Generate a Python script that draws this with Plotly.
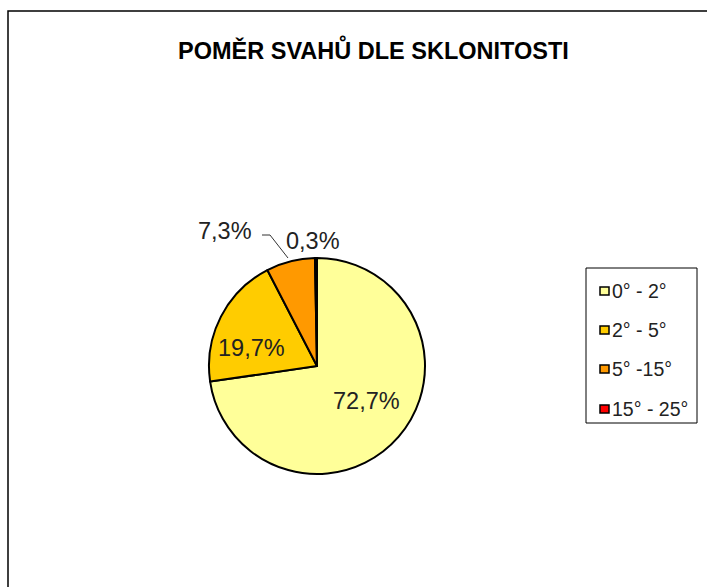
import plotly.graph_objects as go

categories = ["0° - 2°", "2° - 5°", "5° -15°", "15° - 25°"]
values = [72.7, 19.7, 7.3, 0.3]
colors = ["#FFFF99", "#FFCC00", "#FF9900", "#FF0000"]
title_text = "POMĚR SVAHŮ DLE SKLONITOSTI"

W, H = 707, 587
def px(x):
    return x / W
def py(y):
    return 1 - y / H

total = sum(values)
pct_text = [f"{v / total * 100:.1f}%".replace(".", ",") for v in values]

FONT = "Liberation Sans, Arial, sans-serif"
LBL = 23.5

fig = go.Figure(go.Pie(
    labels=categories,
    values=values,
    sort=False,
    direction="clockwise",
    rotation=0,
    marker=dict(colors=colors, line=dict(color="#000000", width=2)),
    textinfo="none",
    domain=dict(x=[px(209), px(425)], y=[py(474), py(258)]),
    showlegend=False,
    hoverinfo="label+percent",
))

shapes = [
    # chart area border
    dict(type="rect", xref="paper", yref="paper", x0=px(8), y0=py(600), x1=px(720), y1=py(11),
         line=dict(color="#000000", width=1.5)),
    # leader line for small slice label
    dict(type="path", xref="paper", yref="paper",
         path=f"M {px(262)} {py(235)} L {px(270)} {py(235)} L {px(288)} {py(258)}",
         line=dict(color="#333333", width=1)),
    # legend box
    dict(type="rect", xref="paper", yref="paper", x0=px(586), y0=py(423), x1=px(697), y1=py(268),
         line=dict(color="#000000", width=1)),
]

annotations = [
    dict(text=f"<b>{title_text}</b>", x=px(374), y=py(50), xref="paper", yref="paper",
         showarrow=False, font=dict(family=FONT, size=23.5, color="#000000"),
         xanchor="center", yanchor="middle"),
]

# slice label positions (pixels)
label_pos = [(366, 401), (251, 348), (225, 231), (313, 241)]
for t, (lx, ly) in zip(pct_text, label_pos):
    annotations.append(dict(text=t, x=px(lx), y=py(ly), xref="paper", yref="paper",
                            showarrow=False, xanchor="center", yanchor="middle",
                            font=dict(family=FONT, size=LBL, color="#222222")))

legend_y = [291, 330, 369, 409]
for cat, col, ly in zip(categories, colors, legend_y):
    shapes.append(dict(type="rect", xref="paper", yref="paper",
                       x0=px(600), x1=px(609), y0=py(ly + 4), y1=py(ly - 4),
                       fillcolor=col, line=dict(color="#000000", width=1.5)))
    annotations.append(dict(text=cat, x=px(610), y=py(ly), xref="paper", yref="paper",
                            showarrow=False, xanchor="left", yanchor="middle",
                            font=dict(family=FONT, size=19.5, color="#222222")))

fig.update_layout(
    width=W, height=H,
    margin=dict(l=0, r=0, t=0, b=0),
    paper_bgcolor="#FFFFFF",
    plot_bgcolor="#FFFFFF",
    shapes=shapes,
    annotations=annotations,
    showlegend=False,
)

fig.write_html("out.html", config={"displayModeBar": False},
               post_script="document.body.style.margin='0';document.body.style.overflow='hidden';")
